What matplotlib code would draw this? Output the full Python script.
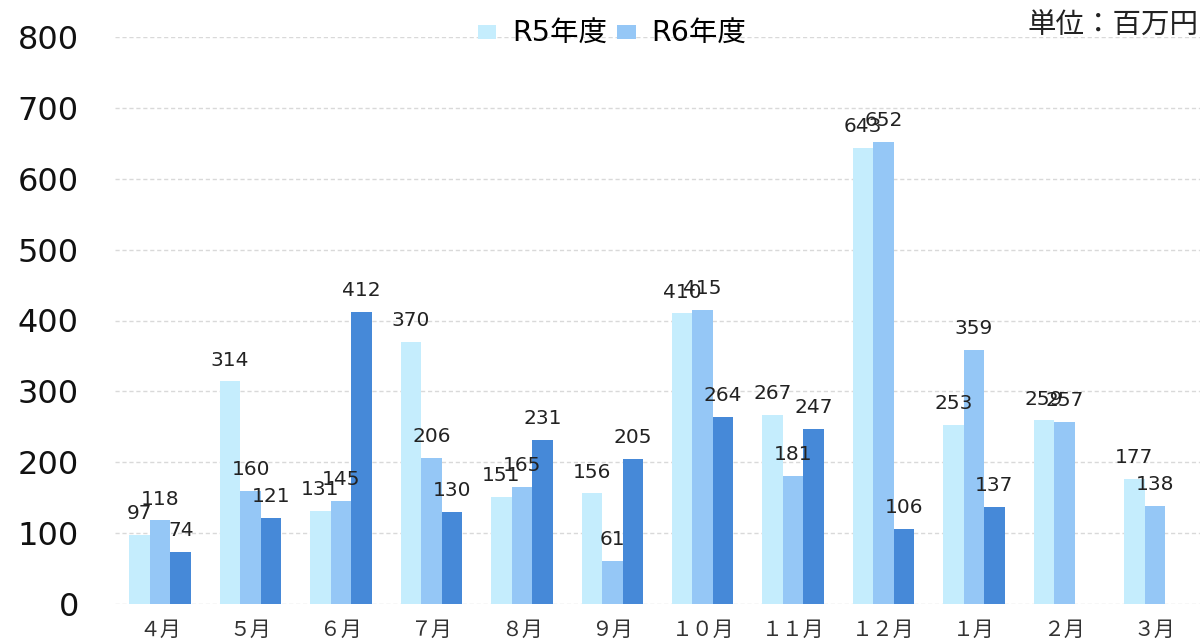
import matplotlib
matplotlib.use("Agg")
import matplotlib.pyplot as plt
import numpy as np

months = ["４月", "５月", "６月", "７月", "８月", "９月", "１０月", "１１月", "１２月", "１月", "２月", "３月"]
r5 = [97, 314, 131, 370, 151, 156, 410, 267, 643, 253, 259, 177]
r6 = [118, 160, 145, 206, 165, 61, 415, 181, 652, 359, 257, 138]
r7 = [74, 121, 412, 130, 231, 205, 264, 247, 106, 137, None, None]
series_names = ["R5年度", "R6年度"]
yticks = list(range(0, 801, 100))
colors = ["#C5EDFD", "#95C7F6", "#4689D8"]

plt.rcParams['font.family'] = ['DejaVu Sans', 'Noto Sans CJK JP']

fig = plt.figure(figsize=(12.01, 6.41), dpi=100)
ax = fig.add_axes([115/1201, 37/641, 1085/1201, (604-37)/641])

x = np.arange(len(months))
w = 0.227
series = [r5, r6, r7]
labels = series_names + [None]
for k, (vals, col, lab) in enumerate(zip(series, colors, labels)):
    xs = [xi + (k - 1) * w for xi, v in zip(x, vals) if v is not None]
    vs = [v for v in vals if v is not None]
    bars = ax.bar(xs, vs, width=w, color=col, label=lab, zorder=2)
    for b, v in zip(bars, vs):
        ax.annotate(str(v), (b.get_x() + b.get_width() / 2, v), xytext=(0, 8.5),
                    textcoords="offset points", ha="center", va="bottom",
                    fontsize=14.5, color="#222222", family="DejaVu Sans", zorder=3)

ax.set_xlim(-0.5, len(months) - 0.5)
ax.set_ylim(0, 800)
ax.set_yticks(yticks)
ax.set_yticklabels([str(v) for v in yticks])
ax.yaxis.grid(True, color="#D9D9D9", linestyle=(0, (3, 2)), linewidth=1)
ax.set_axisbelow(True)
for s in ax.spines.values():
    s.set_visible(False)
ax.tick_params(axis="both", length=0)
ax.tick_params(axis="y", labelsize=23, pad=26, labelcolor="#111111")
ax.set_xticks(x)
ax.set_xticklabels(months, family=['Noto Sans CJK JP'], fontsize=15, color="#333333")
ax.tick_params(axis="x", pad=11)

handles, labs = ax.get_legend_handles_labels()
fig.legend(handles[:2], labs[:2], loc="center", bbox_to_anchor=(612/1201, 1 - 34/641),
           ncol=2, frameon=False,
           prop={'family': ['DejaVu Sans', 'Noto Sans CJK JP'], 'size': 20.5},
           handlelength=0.65, handleheight=0.4, handletextpad=0.55, columnspacing=0.35,
           borderaxespad=0, borderpad=0.0)

fig.text(1198/1201, 1 - 26/641, "単位：百万円", ha="right", va="center", fontsize=20.5,
         family=['Noto Sans CJK JP'], color="#222222")

fig.savefig("out.png", dpi=100)
